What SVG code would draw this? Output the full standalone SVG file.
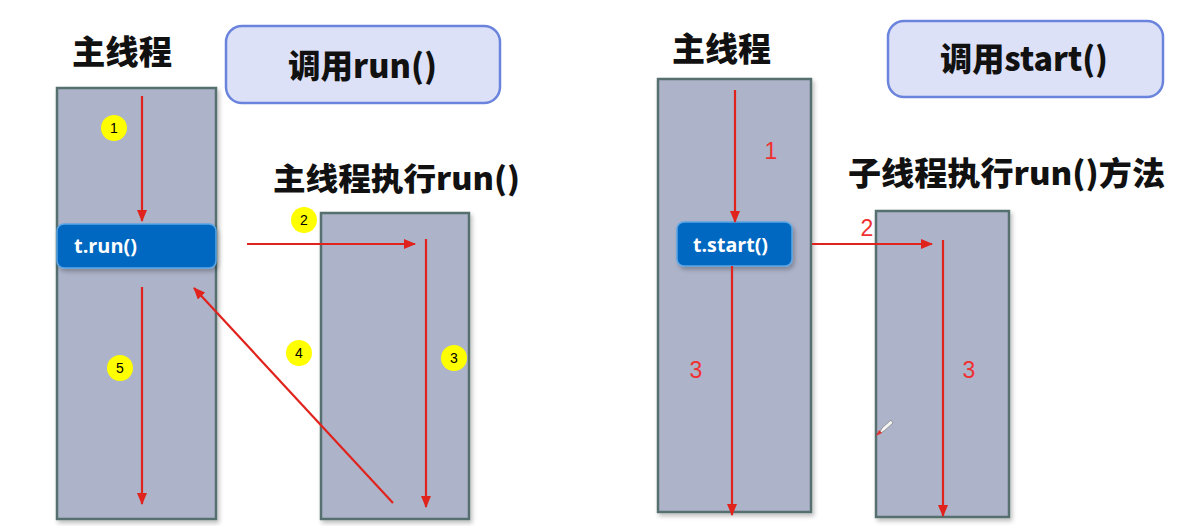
<svg xmlns="http://www.w3.org/2000/svg" width="1198" height="526" viewBox="0 0 1198 526">
<style>
.lane{fill:#adb3c9;stroke:#566f70;stroke-width:2.5;filter:url(#sh)}
.call{fill:#dde1f7;stroke:#6a84dd;stroke-width:2.5}
.btn{fill:#0468c0;stroke:#5aa6e6;stroke-width:1.5;filter:url(#sh)}
.title{font-family:"Noto Sans CJK SC","Noto Sans",sans-serif;font-weight:900;fill:#111}
.btxt{font-family:"Open Sans","Liberation Sans",sans-serif;font-weight:bold;fill:#fff;font-size:20px}
.arr{stroke:#e0231c;stroke-width:2.2;fill:none;marker-end:url(#ah)}
.dot{fill:#ffff00}
.dtxt{font-family:"Liberation Sans",Arial,sans-serif;font-size:14px;fill:#000;text-anchor:middle}
.rtxt{font-family:"Liberation Sans",Arial,sans-serif;font-size:23px;fill:#f03030;text-anchor:middle}
</style>
<defs>
<marker id="ah" markerWidth="12" markerHeight="10" refX="11" refY="5" orient="auto" markerUnits="userSpaceOnUse">
<path d="M0,0 L12,5 L0,10 Z" fill="#e0231c"/>
</marker>
<filter id="sh" x="-10%" y="-10%" width="130%" height="130%">
<feDropShadow dx="2" dy="3" stdDeviation="2" flood-color="#000" flood-opacity="0.25"/>
</filter>
</defs>
<rect width="1198" height="526" fill="#fff"/>

<g id="left-main">
<text class="title" x="72" y="64" font-size="33" textLength="100" lengthAdjust="spacingAndGlyphs">主线程</text>
<rect class="lane" x="57" y="88" width="159" height="431"/>
</g>
<g id="left-call">
<rect class="call" x="226" y="26" width="274" height="77" rx="16"/>
<text class="title" x="288" y="78" font-size="33" textLength="149" lengthAdjust="spacingAndGlyphs">调用run()</text>
</g>
<g id="left-child">
<text class="title" x="273" y="190" font-size="31" textLength="247" lengthAdjust="spacingAndGlyphs">主线程执行run()</text>
<rect class="lane" x="321" y="213" width="148" height="306"/>
</g>
<g id="left-btn">
<rect class="btn" x="57" y="224" width="159" height="44" rx="7"/>
<text class="btxt" x="74" y="253" textLength="63" lengthAdjust="spacingAndGlyphs">t.run()</text>
</g>

<g id="right-main">
<text class="title" x="672" y="61" font-size="33" textLength="99" lengthAdjust="spacingAndGlyphs">主线程</text>
<rect class="lane" x="658" y="79" width="153" height="433"/>
</g>
<g id="right-call">
<rect class="call" x="888" y="21" width="275" height="76" rx="16"/>
<text class="title" x="940" y="71" font-size="33" textLength="168" lengthAdjust="spacingAndGlyphs">调用start()</text>
</g>
<g id="right-child">
<text class="title" x="848" y="185" font-size="32" textLength="317" lengthAdjust="spacingAndGlyphs">子线程执行run()方法</text>
<rect class="lane" x="876" y="211" width="133" height="306"/>
</g>
<g id="right-btn">
<rect class="btn" x="677" y="222" width="115" height="44" rx="7"/>
<text class="btxt" x="693" y="252" textLength="75" lengthAdjust="spacingAndGlyphs">t.start()</text>
</g>

<g id="connectors">
<line class="arr" x1="142" y1="96" x2="142" y2="221"/>
<line class="arr" x1="247" y1="244" x2="415" y2="244"/>
<line class="arr" x1="426" y1="239" x2="426" y2="507"/>
<line class="arr" x1="393" y1="503" x2="194" y2="288"/>
<line class="arr" x1="142" y1="287" x2="142" y2="504"/>
<line class="arr" x1="735" y1="90" x2="735" y2="222"/>
<line class="arr" x1="812" y1="244" x2="932" y2="244"/>
<line class="arr" x1="732" y1="266" x2="732" y2="515"/>
<line class="arr" x1="943" y1="240" x2="943" y2="516"/>
</g>

<g id="labels">
<circle class="dot" cx="114" cy="128" r="13"/><text class="dtxt" x="114" y="133">1</text>
<circle class="dot" cx="304" cy="220" r="13"/><text class="dtxt" x="304" y="225">2</text>
<circle class="dot" cx="454" cy="358" r="13"/><text class="dtxt" x="454" y="363">3</text>
<circle class="dot" cx="299" cy="353" r="13"/><text class="dtxt" x="299" y="358">4</text>
<circle class="dot" cx="120" cy="368" r="13"/><text class="dtxt" x="120" y="373">5</text>
<text class="rtxt" x="771" y="159">1</text>
<text class="rtxt" x="867" y="236">2</text>
<text class="rtxt" x="696" y="378">3</text>
<text class="rtxt" x="969" y="378">3</text>
</g>

<g id="cursor">
<path d="M879,434 L882,428 L891,420 L893,423 L884,431 Z" fill="#f4f4f4" stroke="#888" stroke-width="0.8"/>
<path d="M876,436 L879,430 L882,433 Z" fill="#e03030"/>
</g>
</svg>
